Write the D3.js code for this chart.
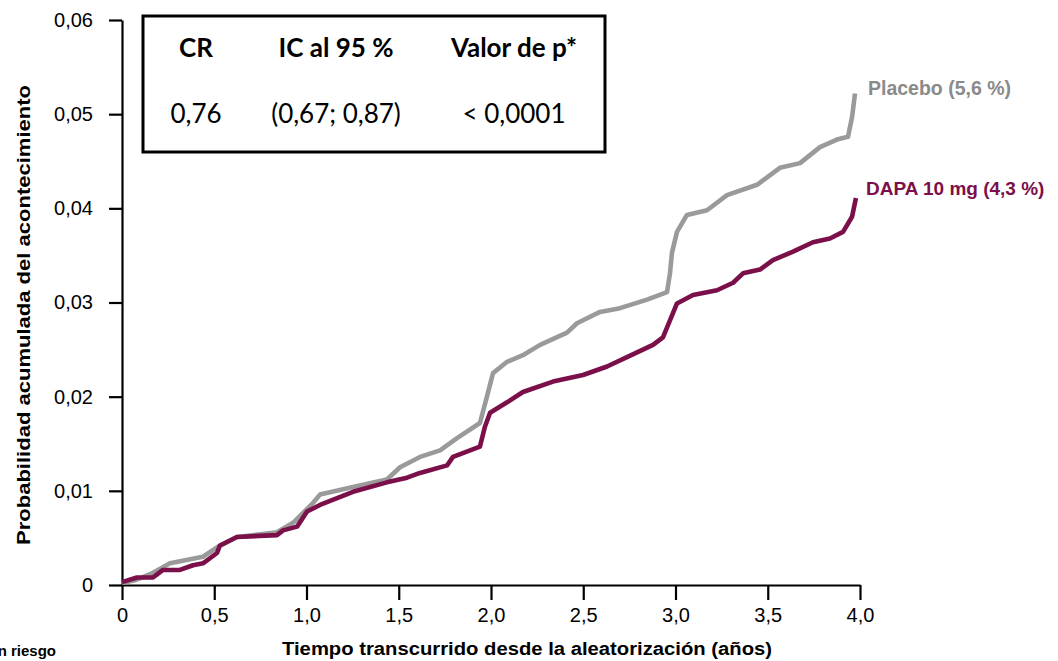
<!DOCTYPE html>
<html>
<head>
<meta charset="utf-8">
<script src="https://cdn.jsdelivr.net/npm/d3@7"></script>
<style>
  html, body { margin: 0; padding: 0; background: #fff; }
  svg { display: block; }
</style>
</head>
<body>
<svg id="chart" width="1058" height="661"></svg>
<script>
// Cumulative event probability by treatment arm (time in years)
const placeboTime = [0, 0.07, 0.168, 0.26, 0.439, 0.515, 0.623, 0.84, 0.927, 1.035, 1.073, 1.252, 1.436, 1.507, 1.615, 1.724, 1.816, 1.94, 1.978, 2.011, 2.087, 2.173, 2.266, 2.412, 2.466, 2.591, 2.699, 2.846, 2.954, 2.97, 2.981, 3.008, 3.062, 3.171, 3.279, 3.442, 3.566, 3.675, 3.783, 3.875, 3.935, 3.957, 3.973];
const placeboProb = [0.0002, 0.0005, 0.0013, 0.0023, 0.0030, 0.0040, 0.0051, 0.0056, 0.0066, 0.0087, 0.0096, 0.0104, 0.0112, 0.0125, 0.0136, 0.0143, 0.0156, 0.0172, 0.0200, 0.0225, 0.0237, 0.0244, 0.0255, 0.0268, 0.0278, 0.0290, 0.0294, 0.0303, 0.0311, 0.0331, 0.0353, 0.0375, 0.0393, 0.0398, 0.0414, 0.0425, 0.0443, 0.0448, 0.0465, 0.0473, 0.0476, 0.0497, 0.0522];

const dapaTime = [0, 0.081, 0.168, 0.222, 0.314, 0.385, 0.439, 0.515, 0.531, 0.623, 0.84, 0.873, 0.949, 1.003, 1.073, 1.252, 1.436, 1.545, 1.615, 1.762, 1.794, 1.94, 1.967, 1.995, 2.087, 2.173, 2.336, 2.499, 2.629, 2.737, 2.878, 2.932, 2.97, 3.008, 3.095, 3.225, 3.312, 3.366, 3.458, 3.528, 3.637, 3.745, 3.837, 3.908, 3.957, 3.978];
const dapaProb = [0.0003, 0.0008, 0.0008, 0.0016, 0.0016, 0.0021, 0.0023, 0.0034, 0.0042, 0.0051, 0.0053, 0.0058, 0.0062, 0.0078, 0.0085, 0.0099, 0.0109, 0.0114, 0.0119, 0.0127, 0.0136, 0.0147, 0.0168, 0.0183, 0.0194, 0.0205, 0.0216, 0.0223, 0.0232, 0.0242, 0.0255, 0.0263, 0.0281, 0.0299, 0.0308, 0.0313, 0.0321, 0.0331, 0.0335, 0.0345, 0.0354, 0.0364, 0.0368, 0.0375, 0.0391, 0.0411];

const xTicks = [0, 0.5, 1.0, 1.5, 2.0, 2.5, 3.0, 3.5, 4.0];
const xTickLabels = ["0", "0,5", "1,0", "1,5", "2,0", "2,5", "3,0", "3,5", "4,0"];
const yTicks = [0, 0.01, 0.02, 0.03, 0.04, 0.05, 0.06];
const yTickLabels = ["0", "0,01", "0,02", "0,03", "0,04", "0,05", "0,06"];

const seriesNames = ["Placebo (5,6 %)", "DAPA 10 mg (4,3 %)"];
const statHeaders = ["CR", "IC al 95 %", "Valor de p*"];
const statValues = ["0,76", "(0,67; 0,87)", "< 0,0001"];

const GREY = "#9a9a9a";
const MAROON = "#7b0f4a";

const svg = d3.select("#chart");
const x = d3.scaleLinear().domain([0, 4]).range([122, 860]);
const y = d3.scaleLinear().domain([0, 0.06]).range([585, 20]);

// axes
const xAxis = d3.axisBottom(x).tickValues(xTicks)
  .tickFormat((d, i) => xTickLabels[i]).tickSize(15).tickPadding(8).tickSizeOuter(0);
const yAxis = d3.axisLeft(y).tickValues(yTicks)
  .tickFormat((d, i) => yTickLabels[i]).tickSize(13).tickPadding(16).tickSizeOuter(0);

const gx = svg.append("g").attr("transform", "translate(0,585)").call(xAxis);
const gy = svg.append("g").attr("transform", "translate(122,0)").call(yAxis);
[gx, gy].forEach(g => {
  g.select(".domain").attr("stroke", "#000").attr("stroke-width", 2.2);
  g.selectAll(".tick line").attr("stroke", "#000").attr("stroke-width", 2.2);
  g.selectAll(".tick text").attr("fill", "#000")
    .style("font-family", "Liberation Sans, Arial, sans-serif").style("font-size", "20px");
});

// curves
const line = d3.line().x(d => x(d[0])).y(d => y(d[1])).curve(d3.curveLinear);
const placebo = placeboTime.map((t, i) => [t, placeboProb[i]]);
const dapa = dapaTime.map((t, i) => [t, dapaProb[i]]);

svg.append("path").datum(placebo).attr("d", line)
  .attr("fill", "none").attr("stroke", GREY).attr("stroke-width", 4.6).attr("stroke-linejoin", "round");
svg.append("path").datum(dapa).attr("d", line)
  .attr("fill", "none").attr("stroke", MAROON).attr("stroke-width", 4.6).attr("stroke-linejoin", "round");

// series labels
const lblFont = "Liberation Sans, Arial, sans-serif";
svg.append("text").attr("x", 868).attr("y", 95).text(seriesNames[0])
  .attr("fill", "#8a8a8a").style("font-family", lblFont).style("font-weight", "bold").style("font-size", "19.5px");
svg.append("text").attr("x", 866).attr("y", 195).text(seriesNames[1])
  .attr("fill", MAROON).style("font-family", lblFont).style("font-weight", "bold").style("font-size", "19px");

// axis titles
svg.append("text").attr("x", 527).attr("y", 655).attr("text-anchor", "middle")
  .text("Tiempo transcurrido desde la aleatorización (años)")
  .style("font-family", lblFont).style("font-weight", "bold").style("font-size", "18px")
  .attr("textLength", 490).attr("lengthAdjust", "spacingAndGlyphs");
svg.append("text").attr("transform", "translate(30,315) rotate(-90)").attr("text-anchor", "middle")
  .text("Probabilidad acumulada del acontecimiento")
  .style("font-family", lblFont).style("font-weight", "bold").style("font-size", "18px")
  .attr("textLength", 460).attr("lengthAdjust", "spacingAndGlyphs");

svg.append("text").attr("x", 56).attr("y", 656).attr("text-anchor", "end")
  .text("En riesgo")
  .style("font-family", lblFont).style("font-weight", "bold").style("font-size", "15px");

// statistics box
svg.append("rect").attr("x", 143).attr("y", 16).attr("width", 462).attr("height", 136)
  .attr("fill", "#fff").attr("stroke", "#000").attr("stroke-width", 3);
const colX = [196, 336, 514];
const boxFont = "Lato, 'Open Sans', sans-serif";
statHeaders.forEach((h, i) => {
  svg.append("text").attr("x", colX[i]).attr("y", 57).attr("text-anchor", "middle").text(h)
    .style("font-family", boxFont).style("font-weight", "bold").style("font-size", "26px").attr("fill", "#000");
});
statValues.forEach((v, i) => {
  svg.append("text").attr("x", colX[i]).attr("y", 123).attr("text-anchor", "middle").text(v)
    .style("font-family", boxFont).style("font-size", "26px").attr("fill", "#000");
});
</script>
</body>
</html>
